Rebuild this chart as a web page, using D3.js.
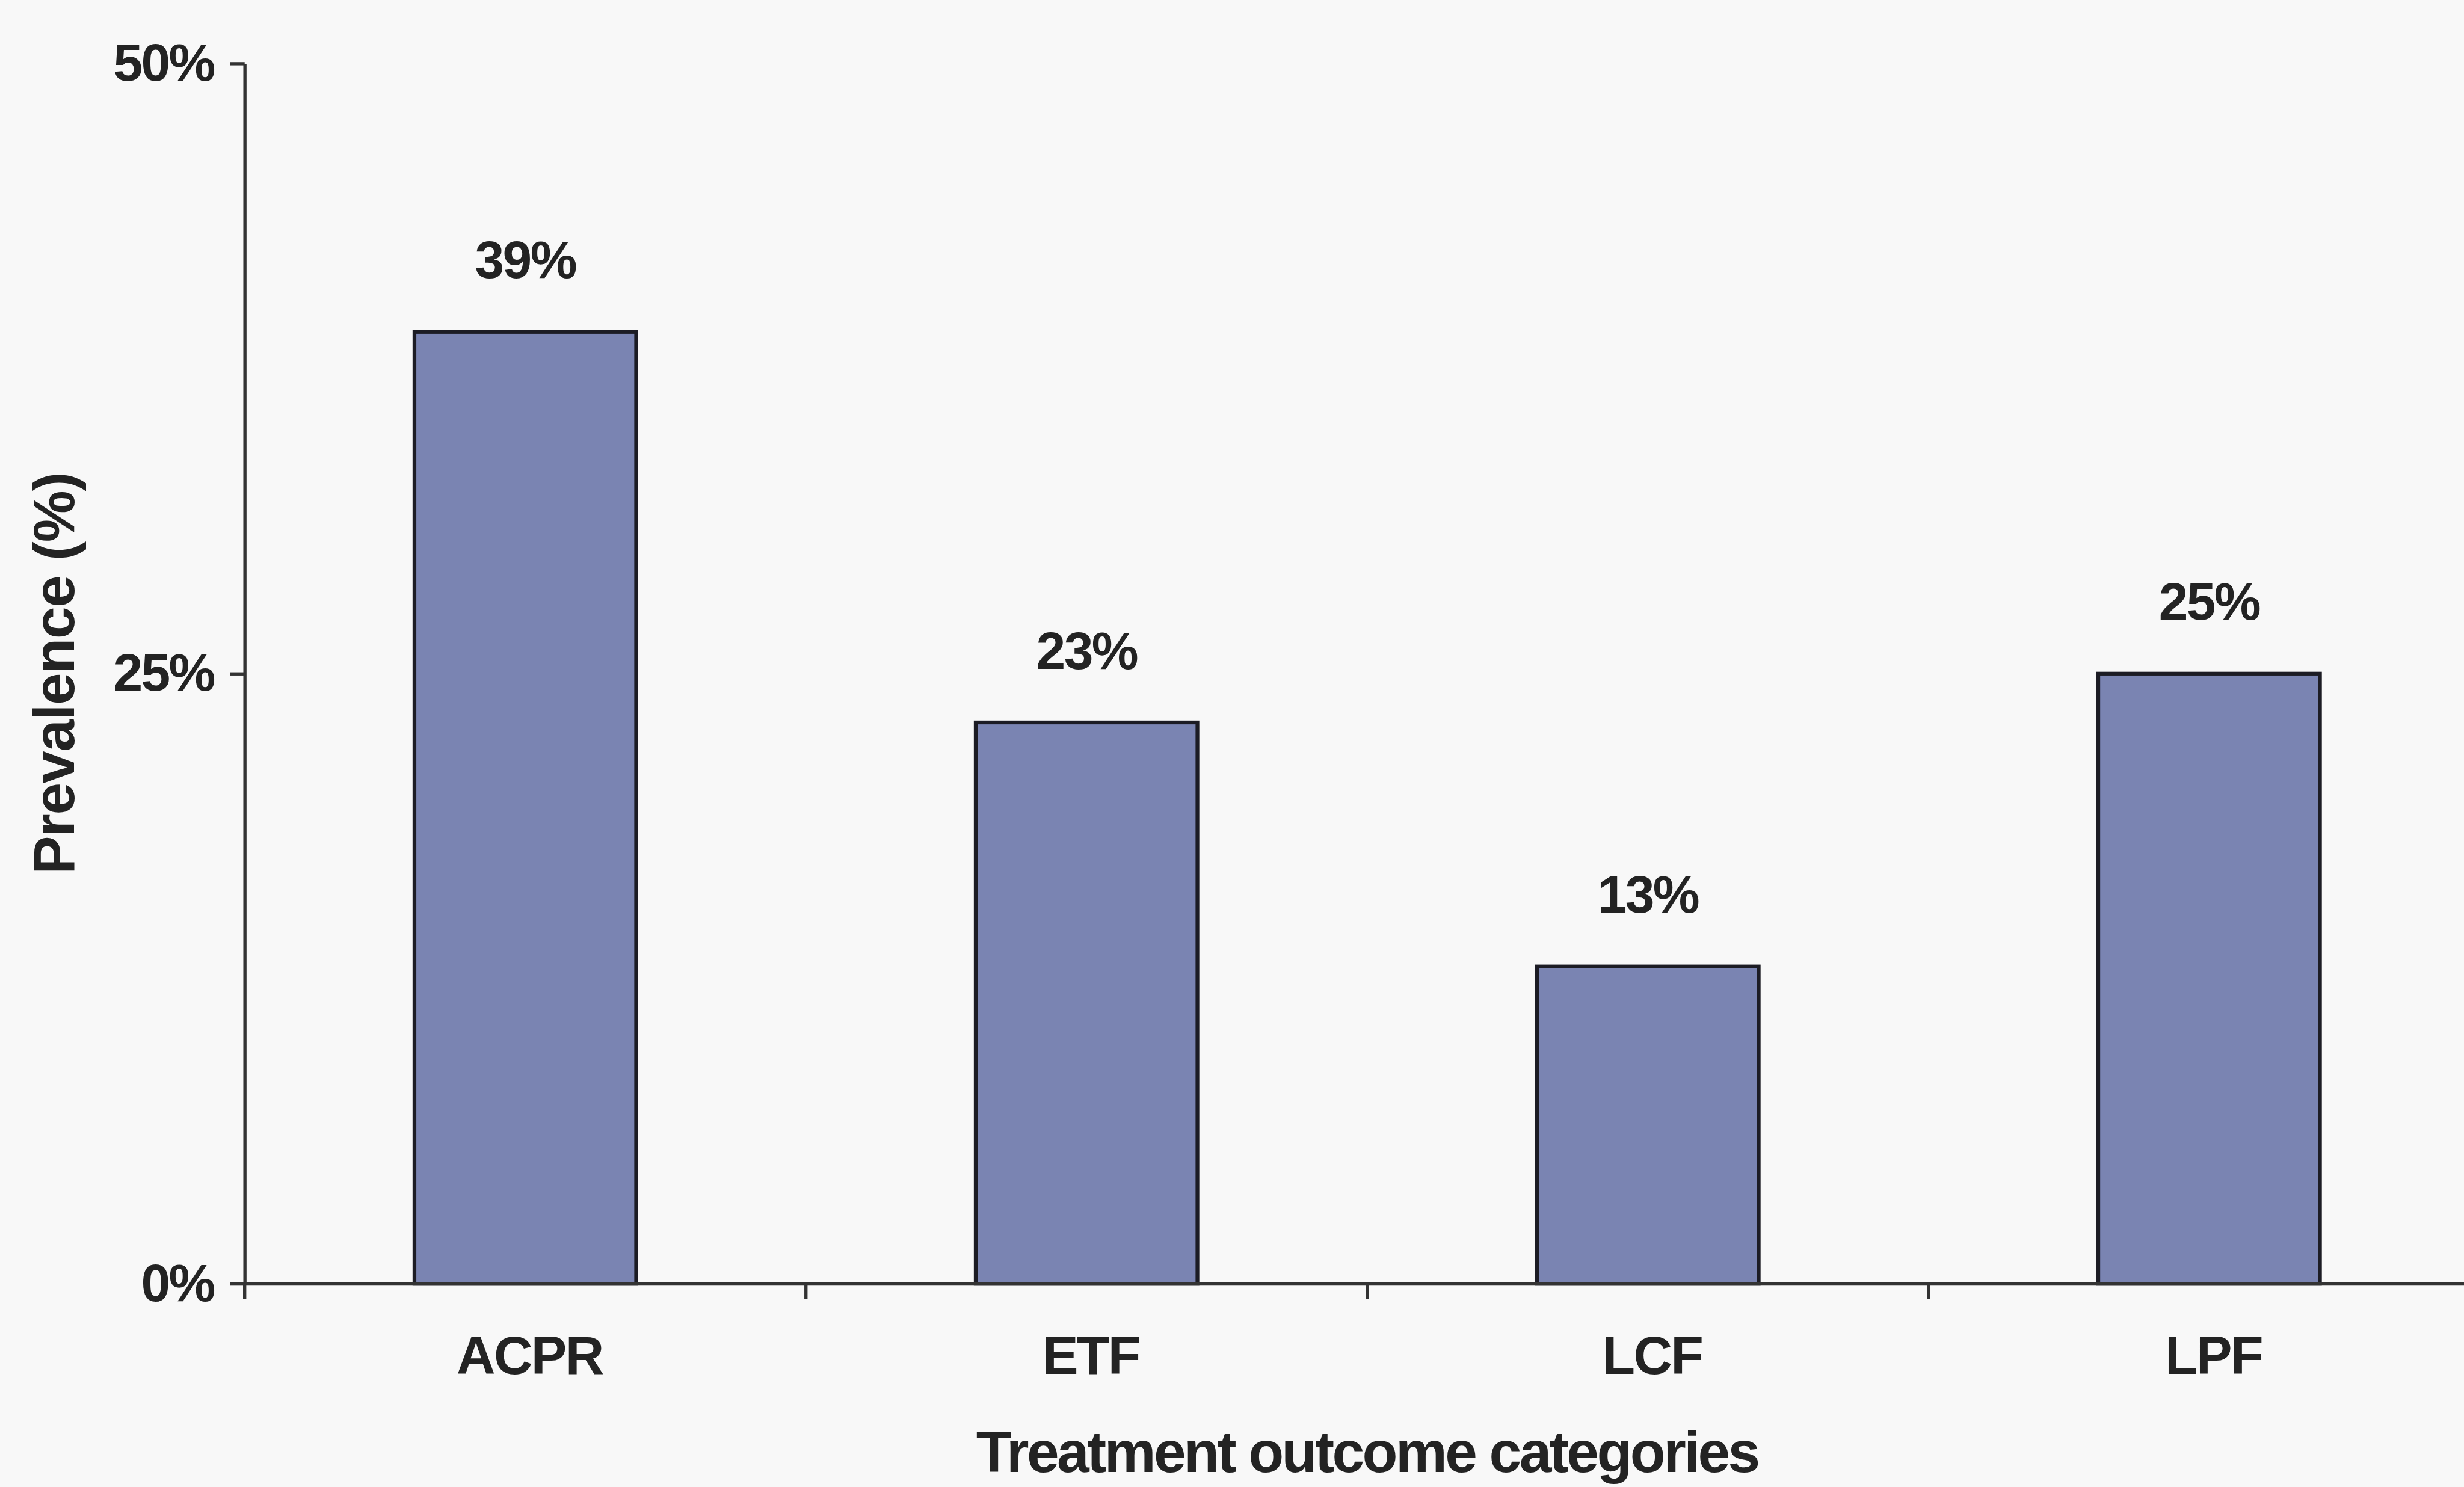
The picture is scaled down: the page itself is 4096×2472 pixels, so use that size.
<!DOCTYPE html>
<html>
<head>
<meta charset="utf-8">
<script src="https://cdn.jsdelivr.net/npm/d3@7"></script>
<style>
  html, body { margin: 0; padding: 0; background: #f8f8f8; overflow: hidden; }
  svg { display: block; }
  text { font-family: "Liberation Sans", Arial, Helvetica, sans-serif; font-weight: bold; fill: #232323; }
</style>
</head>
<body>
<script>
// Treatment outcome categories and their prevalence (%)
const categories = ["ACPR", "ETF", "LCF", "LPF"];
const prevalence = [39, 23, 13, 25];
const yTicks = [0, 25, 50];

const W = 4583, H = 2766;
const svg = d3.select("body").append("svg")
  .attr("width", 4096).attr("height", 2472)
  .attr("viewBox", `0 0 ${W} ${H}`);

svg.append("rect").attr("width", W).attr("height", H).attr("fill", "#f8f8f8");

const x = d3.scaleBand()
  .domain(categories)
  .range([455, 4631])
  .paddingInner(0.605)
  .paddingOuter(0.3025);

const y = d3.scaleLinear().domain([0, 50]).range([2388, 118]);

// Bars
svg.append("g").selectAll("rect")
  .data(categories)
  .join("rect")
  .attr("x", d => x(d))
  .attr("y", (d, i) => y(prevalence[i]))
  .attr("width", x.bandwidth())
  .attr("height", (d, i) => y(0) - y(prevalence[i]))
  .attr("fill", "#7a84b2")
  .attr("stroke", "#1c1c24")
  .attr("stroke-width", 7);

// Value labels above bars
svg.append("g").selectAll("text")
  .data(categories)
  .join("text")
  .attr("x", d => x(d) + x.bandwidth() / 2)
  .attr("y", (d, i) => y(prevalence[i]) - 100)
  .attr("text-anchor", "middle")
  .attr("font-size", 98)
  .attr("letter-spacing", -3)
  .text((d, i) => prevalence[i] + "%");

// Y axis
const yAxis = svg.append("g")
  .attr("transform", `translate(${x.range()[0]},0)`)
  .call(d3.axisLeft(y).tickValues(yTicks).tickFormat(d => d + "%")
    .tickSize(27).tickSizeOuter(0).tickPadding(30));
yAxis.select(".domain").attr("stroke", "#333").attr("stroke-width", 6);
yAxis.selectAll(".tick line").attr("stroke", "#333").attr("stroke-width", 6);
yAxis.selectAll(".tick text")
  .attr("font-size", 98).attr("letter-spacing", -3)
  .attr("fill", "#232323").attr("font-family", null);

// X axis: baseline with ticks at category boundaries
const xAxis = svg.append("g")
  .attr("transform", `translate(0,${y(0)})`)
  .call(d3.axisBottom(x).tickSize(0).tickSizeOuter(0).tickFormat(""));
xAxis.select(".domain").attr("stroke", "#333").attr("stroke-width", 6);

const gap = x.step() - x.bandwidth();
const bounds = categories.map(d => x(d) - gap / 2).concat([x.range()[1]]);
xAxis.selectAll(".bound")
  .data(bounds)
  .join("line")
  .attr("class", "bound")
  .attr("x1", d => d).attr("x2", d => d)
  .attr("y1", 0).attr("y2", 28)
  .attr("stroke", "#333").attr("stroke-width", 6);

// Category labels
svg.append("g").selectAll("text")
  .data(categories)
  .join("text")
  .attr("x", d => x(d) + x.bandwidth() / 2 + 8)
  .attr("y", 2556)
  .attr("text-anchor", "middle")
  .attr("font-size", 100)
  .attr("letter-spacing", -3)
  .text(d => d);

// Axis titles
svg.append("text")
  .attr("x", (x.range()[0] + x.range()[1]) / 2)
  .attr("y", 2738)
  .attr("text-anchor", "middle")
  .attr("font-size", 108)
  .attr("letter-spacing", -4)
  .text("Treatment outcome categories");

svg.append("text")
  .attr("transform", `translate(138,${(y(0) + y(50)) / 2}) rotate(-90)`)
  .attr("text-anchor", "middle")
  .attr("font-size", 108)
  .attr("letter-spacing", -1.5)
  .text("Prevalence (%)");
</script>
</body>
</html>
